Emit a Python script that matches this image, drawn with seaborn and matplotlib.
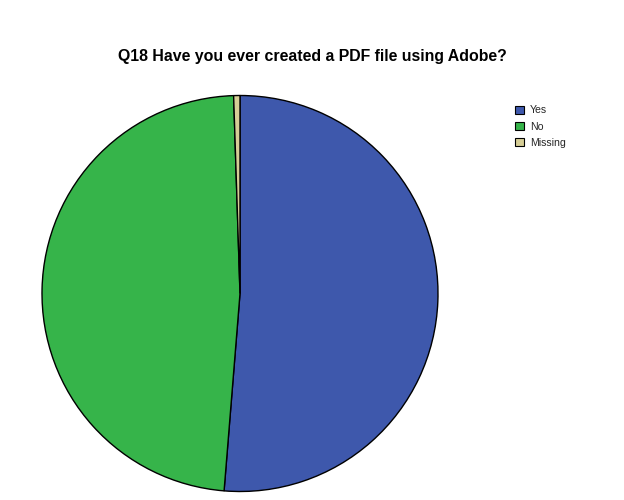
import matplotlib
matplotlib.use("Agg")
import matplotlib.pyplot as plt
import seaborn as sns
from matplotlib.patches import Patch

categories = ["Yes", "No", "Missing"]
counts = [100, 94, 1]
colors = ["#3E58AC", "#36B44A", "#D6CE96"]

sns.set_theme(style="white")
plt.rcParams['font.family'] = ['Liberation Sans', 'DejaVu Sans']

fig = plt.figure(figsize=(6.24, 5.0), dpi=100)
fig.patch.set_facecolor("white")
r = 198
cx, cy = 240, 293.5
ax = fig.add_axes([(cx - r) / 624, (500 - cy - r) / 500, 2 * r / 624, 2 * r / 500])
ax.pie(counts, colors=colors, startangle=90, counterclock=False,
       wedgeprops=dict(edgecolor="black", linewidth=1.0), radius=1.0)
ax.set_xlim(-1.0, 1.0)
ax.set_ylim(-1.0, 1.0)
ax.set_aspect("equal")
ax.axis("off")

fig.text(312 / 624, 1 - 57 / 500, "Q18 Have you ever created a PDF file using Adobe?",
         ha="center", va="center", fontsize=11.4, fontweight="bold", color="black")

handles = [Patch(facecolor=c, edgecolor="black", linewidth=0.8) for c in colors]
fig.legend(handles, categories, loc="upper left", bbox_to_anchor=(511 / 624, 1 - 101 / 500),
           frameon=False, fontsize=7.6, handlelength=0.8, handleheight=0.8,
           handletextpad=0.6, labelspacing=0.6, borderaxespad=0)

fig.savefig("out.png", dpi=100, facecolor="white")
